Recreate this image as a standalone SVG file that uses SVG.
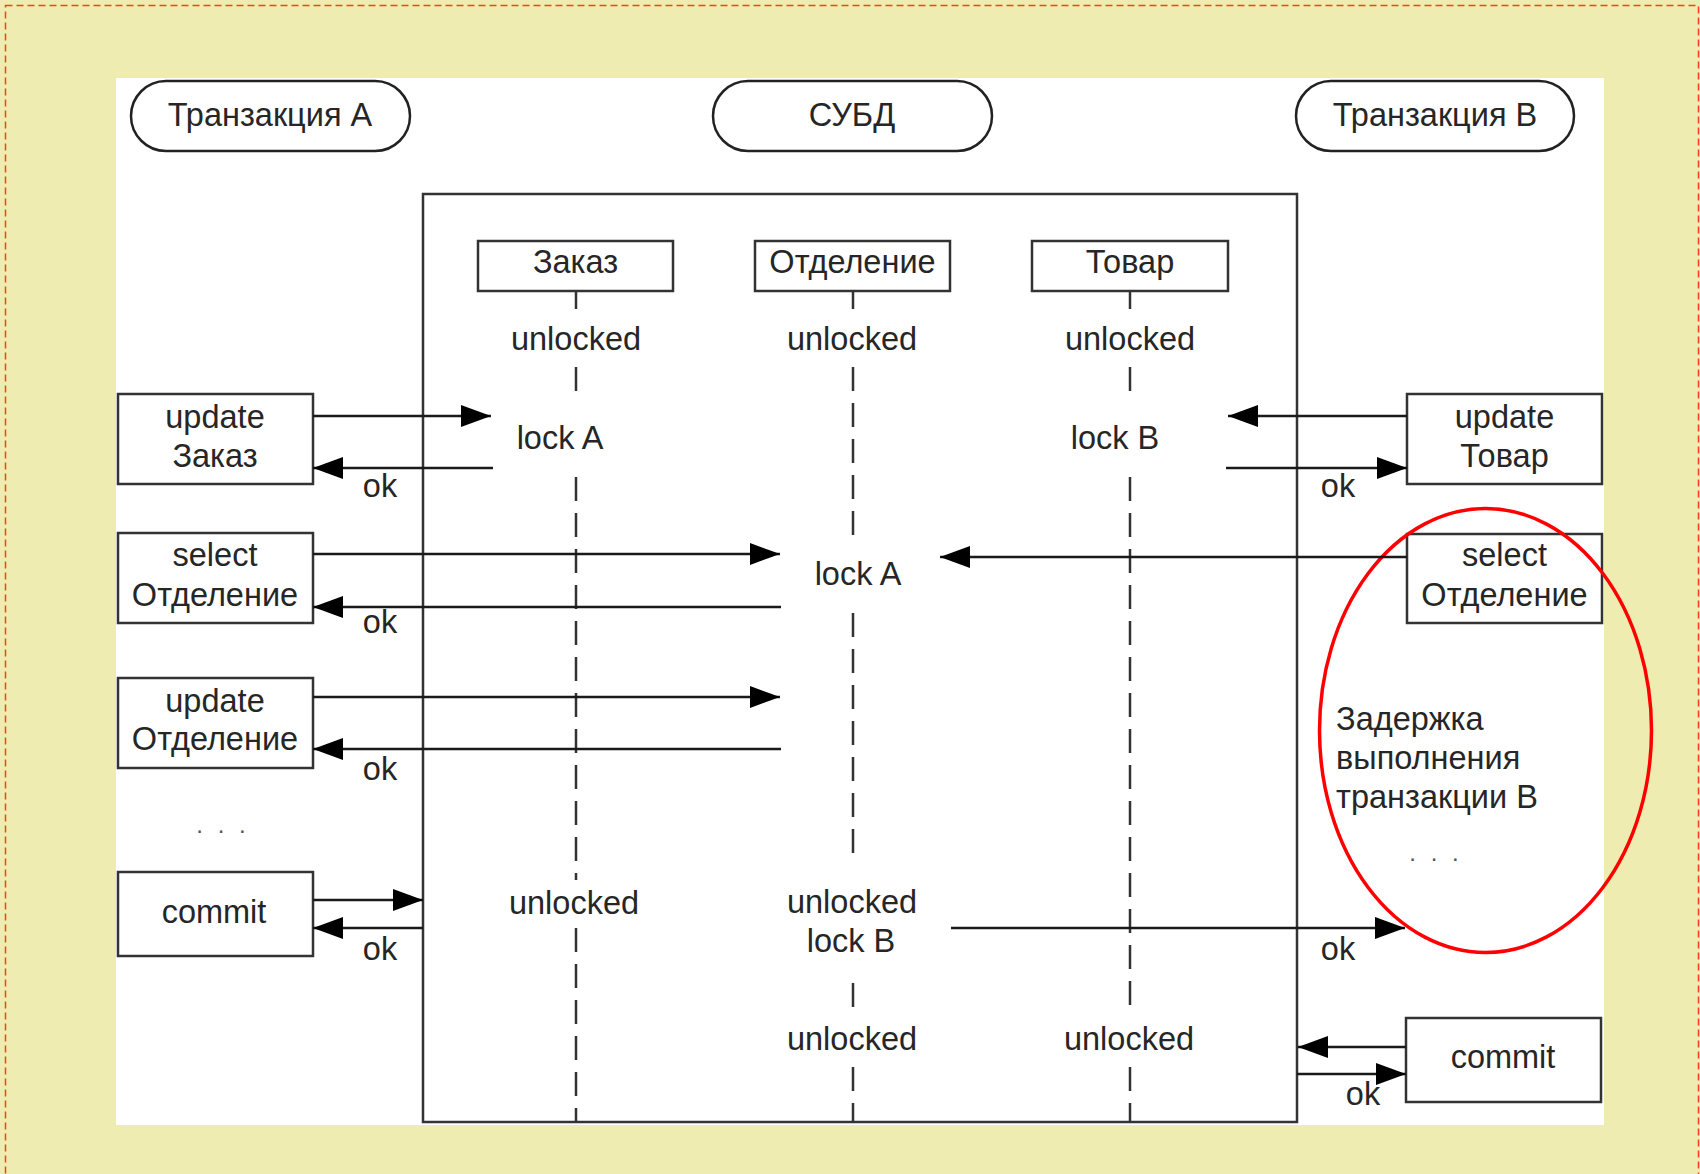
<svg xmlns="http://www.w3.org/2000/svg" width="1700" height="1174" viewBox="0 0 1700 1174">
<defs>
<style>
text{font-family:"Liberation Sans",Arial,sans-serif;font-size:32.5px;fill:#262626;text-anchor:middle}
.l{text-anchor:start}
.box{fill:#fff;stroke:#333;stroke-width:2.5}
.pill{fill:#fff;stroke:#222;stroke-width:2.5}
.msg{stroke:#1a1a1a;stroke-width:2.5;fill:none}
.arr{marker-end:url(#ah)}
.life{stroke:#333;stroke-width:2.5;fill:none}
.dash{stroke-dasharray:24 12}
.dots{font-size:24px;fill:#555;letter-spacing:4px}
</style>
<marker id="ah" markerUnits="userSpaceOnUse" markerWidth="30" markerHeight="22" refX="30" refY="11" orient="auto">
<path d="M0,0 L30,11 L0,22 z" fill="#000"/>
</marker>
</defs>
<rect x="0" y="0" width="1700" height="1174" fill="#eeecb1"/>
<rect x="5.5" y="5.5" width="1693" height="1190" fill="none" stroke="#ff3c1a" stroke-width="1.5" stroke-dasharray="7 4"/>
<rect x="116" y="78" width="1488" height="1047" fill="#fff"/>

<g id="tx-a"><rect class="pill" x="131" y="81" width="279" height="70" rx="35"/><text x="270" y="126">Транзакция А</text></g>
<g id="dbms"><rect class="pill" x="713" y="81" width="279" height="70" rx="35"/><text x="852" y="126">СУБД</text></g>
<g id="tx-b"><rect class="pill" x="1296" y="81" width="278" height="70" rx="35"/><text x="1435" y="126">Транзакция В</text></g>

<g id="dbms-frame"><rect x="423" y="194" width="874" height="928" fill="none" stroke="#333" stroke-width="2.5"/></g>

<g id="obj-zakaz">
<rect class="box" x="478" y="241" width="195" height="50"/><text x="575.5" y="273">Заказ</text>
<line class="life" x1="576" y1="291" x2="576" y2="309"/>
<text x="576" y="350">unlocked</text>
<line class="life dash" x1="576" y1="367" x2="576" y2="395" stroke="#666"/>
<text x="560" y="449">lock A</text>
<line class="life dash" x1="576" y1="477" x2="576" y2="880"/>
<text x="574" y="914">unlocked</text>
<line class="life dash" x1="576" y1="928" x2="576" y2="1122"/>
</g>

<g id="obj-otdelenie">
<rect class="box" x="755" y="241" width="195" height="50"/><text x="852.5" y="273">Отделение</text>
<line class="life" x1="853" y1="291" x2="853" y2="309"/>
<text x="852" y="350">unlocked</text>
<line class="life dash" x1="853" y1="367" x2="853" y2="540"/>
<text x="858" y="585">lock A</text>
<line class="life dash" x1="853" y1="613" x2="853" y2="862"/>
<text x="852" y="913">unlocked</text>
<text x="851" y="952">lock B</text>
<line class="life dash" x1="853" y1="983" x2="853" y2="1015"/>
<text x="852" y="1050">unlocked</text>
<line class="life dash" x1="853" y1="1067" x2="853" y2="1122"/>
</g>

<g id="obj-tovar">
<rect class="box" x="1032" y="241" width="196" height="50"/><text x="1130" y="273">Товар</text>
<line class="life" x1="1130" y1="291" x2="1130" y2="309"/>
<text x="1130" y="350">unlocked</text>
<line class="life dash" x1="1130" y1="367" x2="1130" y2="395"/>
<text x="1115" y="449">lock B</text>
<line class="life dash" x1="1130" y1="477" x2="1130" y2="1015"/>
<text x="1129" y="1050">unlocked</text>
<line class="life dash" x1="1130" y1="1067" x2="1130" y2="1122"/>
</g>

<g id="a-update-zakaz"><rect class="box" x="118" y="394" width="195" height="90"/><text x="215" y="428">update</text><text x="215" y="467">Заказ</text></g>
<g id="a-select-otd"><rect class="box" x="118" y="533" width="195" height="90"/><text x="215" y="566">select</text><text x="215" y="606">Отделение</text></g>
<g id="a-update-otd"><rect class="box" x="118" y="678" width="195" height="90"/><text x="215" y="712">update</text><text x="215" y="750">Отделение</text></g>
<g id="a-dots"><text class="dots" x="223" y="833">. . .</text></g>
<g id="a-commit"><rect class="box" x="118" y="872" width="195" height="84"/><text x="214" y="923">commit</text></g>

<g id="b-update-tovar"><rect class="box" x="1407" y="394" width="195" height="90"/><text x="1504.5" y="428">update</text><text x="1504.5" y="467">Товар</text></g>
<g id="b-select-otd"><rect class="box" x="1407" y="534" width="195" height="89"/><text x="1504.5" y="566">select</text><text x="1504.5" y="606">Отделение</text></g>
<g id="b-commit"><rect class="box" x="1406" y="1018" width="195" height="84"/><text x="1503" y="1068">commit</text></g>

<g id="delay-note">
<ellipse cx="1485.5" cy="730.5" rx="166" ry="222" fill="none" stroke="#ff0000" stroke-width="3.5"/>
<text class="l" x="1336" y="730">Задержка</text>
<text class="l" x="1336" y="769">выполнения</text>
<text class="l" x="1336" y="808">транзакции В</text>
<text class="dots" x="1436" y="861">. . .</text>
</g>

<g id="connectors">
<line class="msg arr" x1="313" y1="416" x2="491" y2="416"/>
<line class="msg arr" x1="493" y1="468" x2="313" y2="468"/>
<text x="380" y="497">ok</text>
<line class="msg arr" x1="313" y1="554" x2="780" y2="554"/>
<line class="msg arr" x1="781" y1="607" x2="313" y2="607"/>
<text x="380" y="633">ok</text>
<line class="msg arr" x1="313" y1="697" x2="780" y2="697"/>
<line class="msg arr" x1="781" y1="749" x2="313" y2="749"/>
<text x="380" y="780">ok</text>
<line class="msg arr" x1="313" y1="900" x2="423" y2="900"/>
<line class="msg arr" x1="423" y1="928" x2="313" y2="928"/>
<text x="380" y="960">ok</text>

<line class="msg arr" x1="1407" y1="416" x2="1228" y2="416"/>
<line class="msg arr" x1="1226" y1="468" x2="1407" y2="468"/>
<text x="1338" y="497">ok</text>
<line class="msg arr" x1="1407" y1="557" x2="940" y2="557"/>
<line class="msg arr" x1="951" y1="928" x2="1405" y2="928"/>
<text x="1338" y="960">ok</text>
<line class="msg arr" x1="1406" y1="1047" x2="1298" y2="1047"/>
<line class="msg arr" x1="1297" y1="1074" x2="1406" y2="1074"/>
<text x="1363" y="1105">ok</text>
</g>
</svg>
